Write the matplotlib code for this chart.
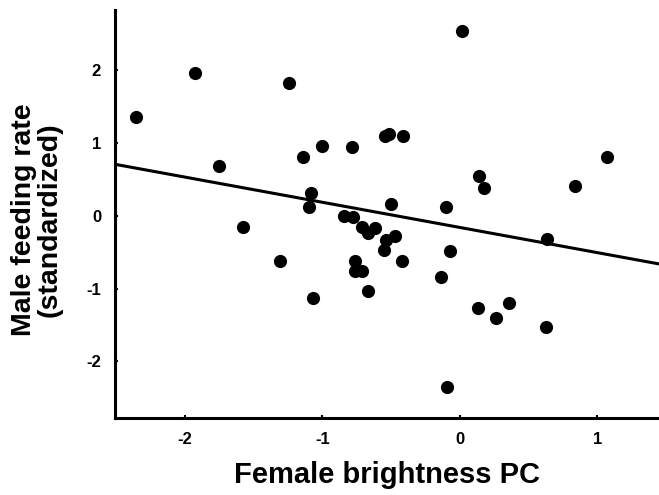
import numpy as np
import matplotlib
matplotlib.use('Agg')
import matplotlib.pyplot as plt

plt.rcParams['font.family'] = ['Liberation Sans', 'DejaVu Sans']

# female brightness PC vs standardized male feeding rate
brightness = [-2.36, -1.93, -1.246, -1.75, -1.14, -1.0, -0.785, -1.086, -1.096,
              -0.844, -0.776, 0.015, -0.545, -0.514, -0.41, 1.074, 0.143, 0.177,
              0.839, -0.504, -0.104, -1.576, -1.307, -1.069, -0.713, -0.671,
              -0.616, -0.538, -0.553, -0.47, -0.424, -0.764, -0.764, -0.71,
              -0.671, -0.068, -0.138, 0.133, 0.26, 0.356, 0.628, 0.638, -0.095]
feeding = [1.36, 1.97, 1.83, 0.68, 0.81, 0.96, 0.945, 0.31, 0.115,
           0.0, -0.02, 2.545, 1.096, 1.12, 1.096, 0.807, 0.55, 0.385,
           0.413, 0.161, 0.115, -0.15, -0.623, -1.13, -0.15, -0.24,
           -0.17, -0.334, -0.47, -0.28, -0.623, -0.623, -0.76, -0.76,
           -1.036, -0.486, -0.848, -1.265, -1.40, -1.197, -1.53, -0.325, -2.356]

# fitted line (intercept, slope)
fit_intercept = -0.16
fit_slope = -0.346

xticks = [-2, -1, 0, 1]
yticks = [-2, -1, 0, 1, 2]

fig = plt.figure(figsize=(6.59, 4.95), dpi=100)
ax = fig.add_axes([0.1745, 0.1556, 0.8255, 0.8242])

ax.scatter(brightness, feeding, s=90, color='black', zorder=3, linewidths=0)

xlim = (-2.51, 1.45)
xs = np.array(xlim)
ax.plot(xs, fit_intercept + fit_slope * xs, color='black', lw=2.2, zorder=2)

ax.set_xlim(*xlim)
ax.set_ylim(-2.78, 2.83)
ax.set_xticks(xticks)
ax.set_yticks(yticks)
ax.set_xticklabels([str(t) for t in xticks], fontweight='bold', fontsize=12)
ax.set_yticklabels([str(t) for t in yticks], fontweight='bold', fontsize=12)

for side in ['top', 'right']:
    ax.spines[side].set_visible(False)
for side in ['left', 'bottom']:
    ax.spines[side].set_linewidth(2.2)

ax.tick_params(direction='in', length=2.5, width=1.5, pad=10)

ax.set_xlabel('Female brightness PC', fontsize=21, fontweight='bold', labelpad=10)
ax.set_ylabel('Male feeding rate\n(standardized)', fontsize=20.5, fontweight='bold',
              linespacing=0.95)
ax.yaxis.set_label_coords(-0.097, 0.485)

fig.savefig('out.png', dpi=100)
